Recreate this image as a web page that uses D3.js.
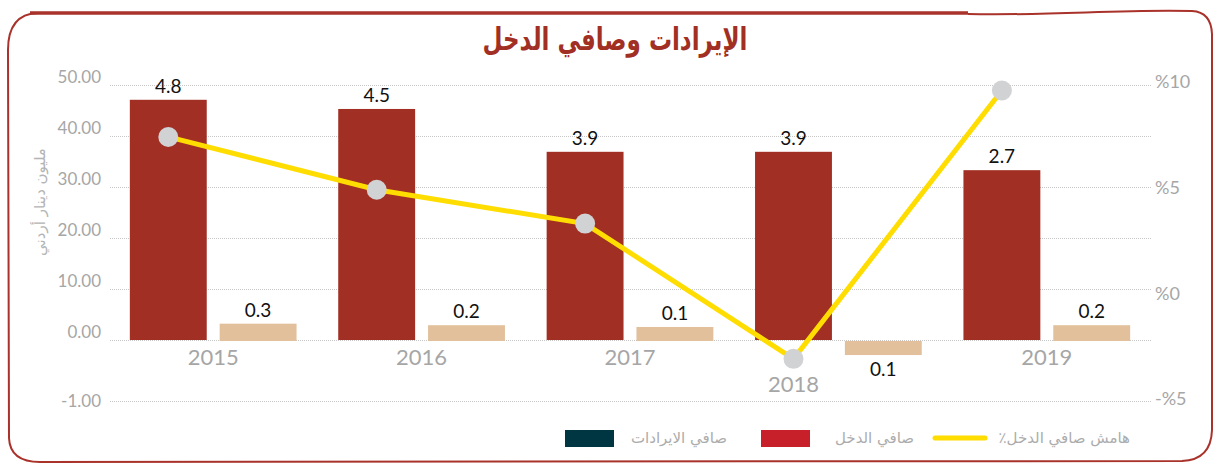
<!DOCTYPE html>
<html>
<head>
<meta charset="utf-8">
<script src="https://cdn.jsdelivr.net/npm/d3@7"></script>
<style>
  html, body { margin: 0; padding: 0; background: #fff; }
  svg { display: block; }
</style>
</head>
<body>
<div id="chart"></div>
<script>
"use strict";

// data
var years = ["2015", "2016", "2017", "2018", "2019"];
var revenueVals = [47.1, 45.3, 36.9, 36.9, 33.3];      // bar heights on left axis
var revenueLabels = ["4.8", "4.5", "3.9", "3.9", "2.7"];
var netVals = [3.4, 3.1, 2.75, -0.23, 3.1];
var netLabels = ["0.3", "0.2", "0.1", "0.1", "0.2"];
var marginVals = [7.4, 4.9, 3.3, -3.1, 9.6];           // % on right axis
var leftTicks = [50, 40, 30, 20, 10, 0, -1];
var rightTicks = [10, 5, 0, -5];
var titleText = "الإيرادات وصافي الدخل";
var yTitle = "مليون دينار أردني";
var legendItems = [
  { name: "هامش صافي الدخل٪", type: "line", color: "#ffdd00" },
  { name: "صافي الدخل", type: "box", color: "#c8202a" },
  { name: "صافي الايرادات", type: "box", color: "#003641" }
];

var W = 1218, H = 465;
var darkRed = "#a12f24", sand = "#e2c09c", grey = "#a6a6a6";

var svg = d3.select("#chart").append("svg")
  .attr("width", W)
  .attr("height", H);

// hand drawn frame
svg.append("path")
  .attr("d", "M968,14 C1050,16 1120,9 1192,11 Q1211,12 1212,34 L1212,430 Q1211,460 1182,461 L40,462 Q10,462 9,438 L8,50 Q8,14 38,13")
  .attr("fill", "none")
  .attr("stroke", "#a9322a")
  .attr("stroke-width", 2);
svg.append("line")
  .attr("x1", 30).attr("x2", 968)
  .attr("y1", 13).attr("y2", 13)
  .attr("stroke", "#a9322a")
  .attr("stroke-width", 3.5);

// title
svg.append("text")
  .attr("x", 615)
  .attr("y", 50)
  .attr("text-anchor", "middle")
  .attr("font-family", "'DejaVu Sans'")
  .attr("font-weight", "bold")
  .attr("font-size", 31)
  .attr("textLength", 265)
  .attr("lengthAdjust", "spacingAndGlyphs")
  .attr("fill", "#a12f24")
  .text(titleText);

// scales
var x = d3.scaleBand().domain(years).range([109, 1151]).paddingInner(0.2).paddingOuter(0.1);
var xSub = d3.scaleBand().domain(["rev", "net"]).range([0, x.bandwidth()]).paddingInner(0.144);
var y = d3.scaleLinear().domain([-1, 0, 50]).range([401, 340, 85]);
var yR = d3.scaleLinear().domain([-5, 10]).range([399, 82]);

// gridlines
svg.append("g").selectAll("line")
  .data(leftTicks)
  .enter().append("line")
  .attr("x1", 110).attr("x2", 1151)
  .attr("y1", function(d) { return y(d) + 0.5; })
  .attr("y2", function(d) { return y(d) + 0.5; })
  .attr("stroke", "#c8c8c8")
  .attr("stroke-dasharray", "1,1");

// left tick labels
svg.append("g").selectAll("text")
  .data(leftTicks)
  .enter().append("text")
  .attr("x", 101)
  .attr("y", function(d) { return y(d) + (d < 0 ? 0 : -8); })
  .attr("dy", "0.35em")
  .attr("text-anchor", "end")
  .attr("font-family", "Lato")
  .attr("font-size", 17)
  .attr("fill", grey)
  .text(function(d) { return d.toFixed(2); });

// right tick labels
svg.append("g").selectAll("text")
  .data(rightTicks)
  .enter().append("text")
  .attr("x", 1155)
  .attr("y", function(d) { return yR(d); })
  .attr("dy", "0.35em")
  .attr("font-family", "Lato")
  .attr("font-size", 18)
  .attr("fill", grey)
  .text(function(d) { return (d < 0 ? "-" : "") + "%" + Math.abs(d); });

// y title
svg.append("text")
  .attr("transform", "translate(40,202) rotate(-90)")
  .attr("dy", "0.35em")
  .attr("text-anchor", "middle")
  .attr("font-family", "'DejaVu Sans'")
  .attr("font-size", 15)
  .attr("fill", "#b4b4b4")
  .text(yTitle);

// bars
var groups = svg.append("g").selectAll("g")
  .data(years)
  .enter().append("g")
  .attr("transform", function(d) { return "translate(" + x(d) + ",0)"; });

groups.append("rect")
  .attr("x", xSub("rev"))
  .attr("width", xSub.bandwidth())
  .attr("y", function(d, i) { return y(revenueVals[i]); })
  .attr("height", function(d, i) { return y(0) - y(revenueVals[i]); })
  .attr("fill", darkRed);

groups.append("rect")
  .attr("x", xSub("net"))
  .attr("width", xSub.bandwidth())
  .attr("y", function(d, i) { return y(Math.max(0, netVals[i])) + 1; })
  .attr("height", function(d, i) { return Math.abs(y(netVals[i]) - y(0)); })
  .attr("fill", sand);

groups.append("text")
  .attr("x", xSub("rev") + xSub.bandwidth() / 2)
  .attr("y", function(d, i) { return y(revenueVals[i]) - 7; })
  .attr("text-anchor", "middle")
  .attr("font-family", "Lato")
  .attr("font-size", 19)
  .attr("fill", "#111")
  .text(function(d, i) { return revenueLabels[i]; });

groups.append("text")
  .attr("x", xSub("net") + xSub.bandwidth() / 2)
  .attr("y", function(d, i) { return netVals[i] < 0 ? y(netVals[i]) + 22 : y(netVals[i]) - 6; })
  .attr("text-anchor", "middle")
  .attr("font-family", "Lato")
  .attr("font-size", 19)
  .attr("fill", "#111")
  .text(function(d, i) { return netLabels[i]; });

// year labels (moved under the point when the net bar is negative)
groups.append("text")
  .attr("x", function(d, i) { return netVals[i] < 0 ? xSub("rev") + xSub.bandwidth() / 2 : x.bandwidth() / 2; })
  .attr("y", function(d, i) { return netVals[i] < 0 ? y(0) + 52 : y(0) + 25; })
  .attr("text-anchor", "middle")
  .attr("font-family", "Lato")
  .attr("font-size", 22)
  .attr("fill", grey)
  .text(function(d) { return d; });

// margin line
var lineX = function(d, i) { return x(years[i]) + xSub("rev") + xSub.bandwidth() / 2; };
var line = d3.line()
  .x(lineX)
  .y(function(d) { return yR(d); });

svg.append("path")
  .datum(marginVals)
  .attr("d", line)
  .attr("fill", "none")
  .attr("stroke", "#ffdd00")
  .attr("stroke-width", 5);

svg.append("g").selectAll("circle")
  .data(marginVals)
  .enter().append("circle")
  .attr("cx", lineX)
  .attr("cy", function(d) { return yR(d); })
  .attr("r", 10)
  .attr("fill", "#d1d2d4");

// legend
var legendPos = [
  { textRight: 1130, markX: 935 },
  { textRight: 914, markX: 761 },
  { textRight: 727, markX: 565 }
];
var legend = svg.append("g").selectAll("g")
  .data(legendItems)
  .enter().append("g");

legend.append("text")
  .attr("x", function(d, i) { return legendPos[i].textRight; })
  .attr("y", 438)
  .attr("dy", "0.35em")
  .attr("direction", "rtl")
  .attr("text-anchor", "start")
  .attr("font-family", "'DejaVu Sans'")
  .attr("font-size", 15)
  .attr("fill", "#acacac")
  .text(function(d) { return d.name; });

legend.filter(function(d) { return d.type === "box"; })
  .append("rect")
  .attr("x", function(d) { return legendPos[legendItems.indexOf(d)].markX; })
  .attr("y", 430)
  .attr("width", 49)
  .attr("height", 17)
  .attr("fill", function(d) { return d.color; });

legend.filter(function(d) { return d.type === "line"; })
  .append("line")
  .attr("x1", function(d) { return legendPos[legendItems.indexOf(d)].markX; })
  .attr("x2", function(d) { return legendPos[legendItems.indexOf(d)].markX + 50; })
  .attr("y1", 438).attr("y2", 438)
  .attr("stroke", function(d) { return d.color; })
  .attr("stroke-width", 5)
  .attr("stroke-linecap", "round");
</script>
</body>
</html>
